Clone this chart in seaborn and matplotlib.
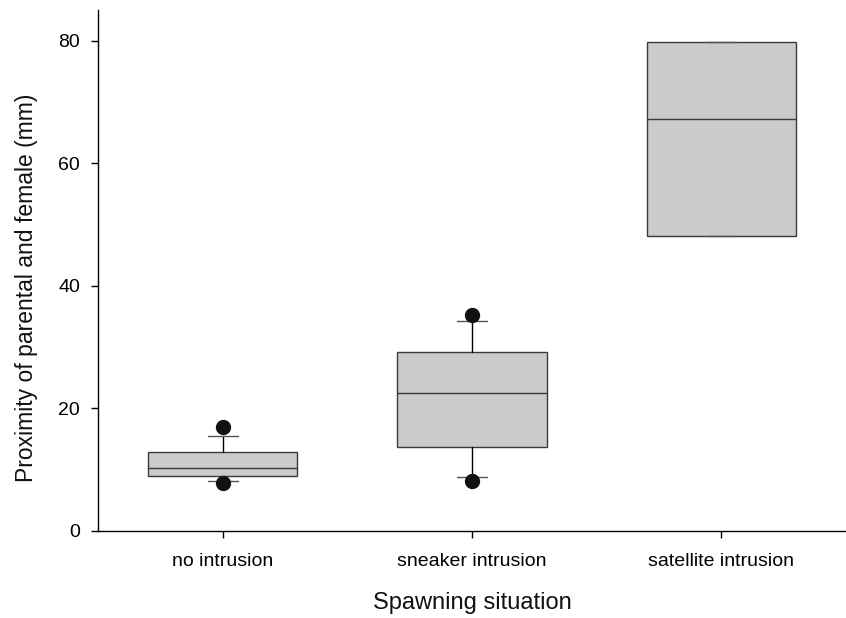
"""
Box plot: proximity of parental and female by spawning situation
Summary stats read off the reference figure (SigmaPlot style)
"""

import matplotlib
matplotlib.use("Agg")
import matplotlib.pyplot as plt
import seaborn as sns

# ── Data (box summary statistics, mm) ─────────────────────────────────────
categories = ["no intrusion", "sneaker intrusion", "satellite intrusion"]
q1       = [8.98, 13.66, 48.05]
medians  = [10.29, 22.53, 67.27]
q3       = [12.95, 29.17, 79.84]
whislo   = [8.2, 8.87, 48.05]
whishi   = [15.56, 34.18, 79.84]
outliers = [[17.0, 7.78], [35.27, 8.16], []]

y_ticks = [0, 20, 40, 60, 80]

# ── Style ──────────────────────────────────────────────────────────────────
sns.set_style("ticks")
plt.rcParams["font.family"] = ["Liberation Sans", "DejaVu Sans"]

C_FILL = "#CACBCD"
C_EDGE = "#3A3A3A"

stats = [
    dict(label=c, q1=a, med=m, q3=b, whislo=lo, whishi=hi, fliers=f)
    for c, a, m, b, lo, hi, f in zip(categories, q1, medians, q3, whislo, whishi, outliers)
]

fig = plt.figure(figsize=(8.46, 6.18), dpi=100)
ax = fig.add_axes([0.1158, 0.1408, 0.8842, 0.843])

ax.bxp(
    stats,
    positions=range(len(categories)),
    widths=0.6,
    patch_artist=True,
    showfliers=True,
    boxprops=dict(facecolor=C_FILL, edgecolor=C_EDGE, linewidth=1.0),
    medianprops=dict(color=C_EDGE, linewidth=1.0),
    whiskerprops=dict(color="black", linewidth=1.0),
    capprops=dict(color="#555555", linewidth=1.0),
    capwidths=0.12,
    flierprops=dict(marker="o", markerfacecolor="#111111",
                    markeredgecolor="#111111", markersize=10),
)

ax.set_xlim(-0.5, 2.5)
ax.set_ylim(0, 85)
ax.set_yticks(y_ticks)
ax.set_xticks(range(len(categories)))
ax.set_xticklabels(categories)

ax.set_xlabel("Spawning situation", fontsize=17, labelpad=16, color="#111111")
ax.set_ylabel("Proximity of parental and female (mm)", fontsize=16.5, color="#111111")
ax.yaxis.set_label_coords(-0.08, 0.466)

sns.despine(ax=ax)
for side in ["left", "bottom"]:
    ax.spines[side].set_linewidth(1.0)
    ax.spines[side].set_color("black")
ax.tick_params(axis="both", direction="out", length=5, width=1.0,
               colors="black", labelsize=14)
ax.tick_params(axis="y", pad=8)
ax.tick_params(axis="x", pad=11)

fig.savefig("out.png", dpi=100, facecolor="white")
print("Saved: out.png")
